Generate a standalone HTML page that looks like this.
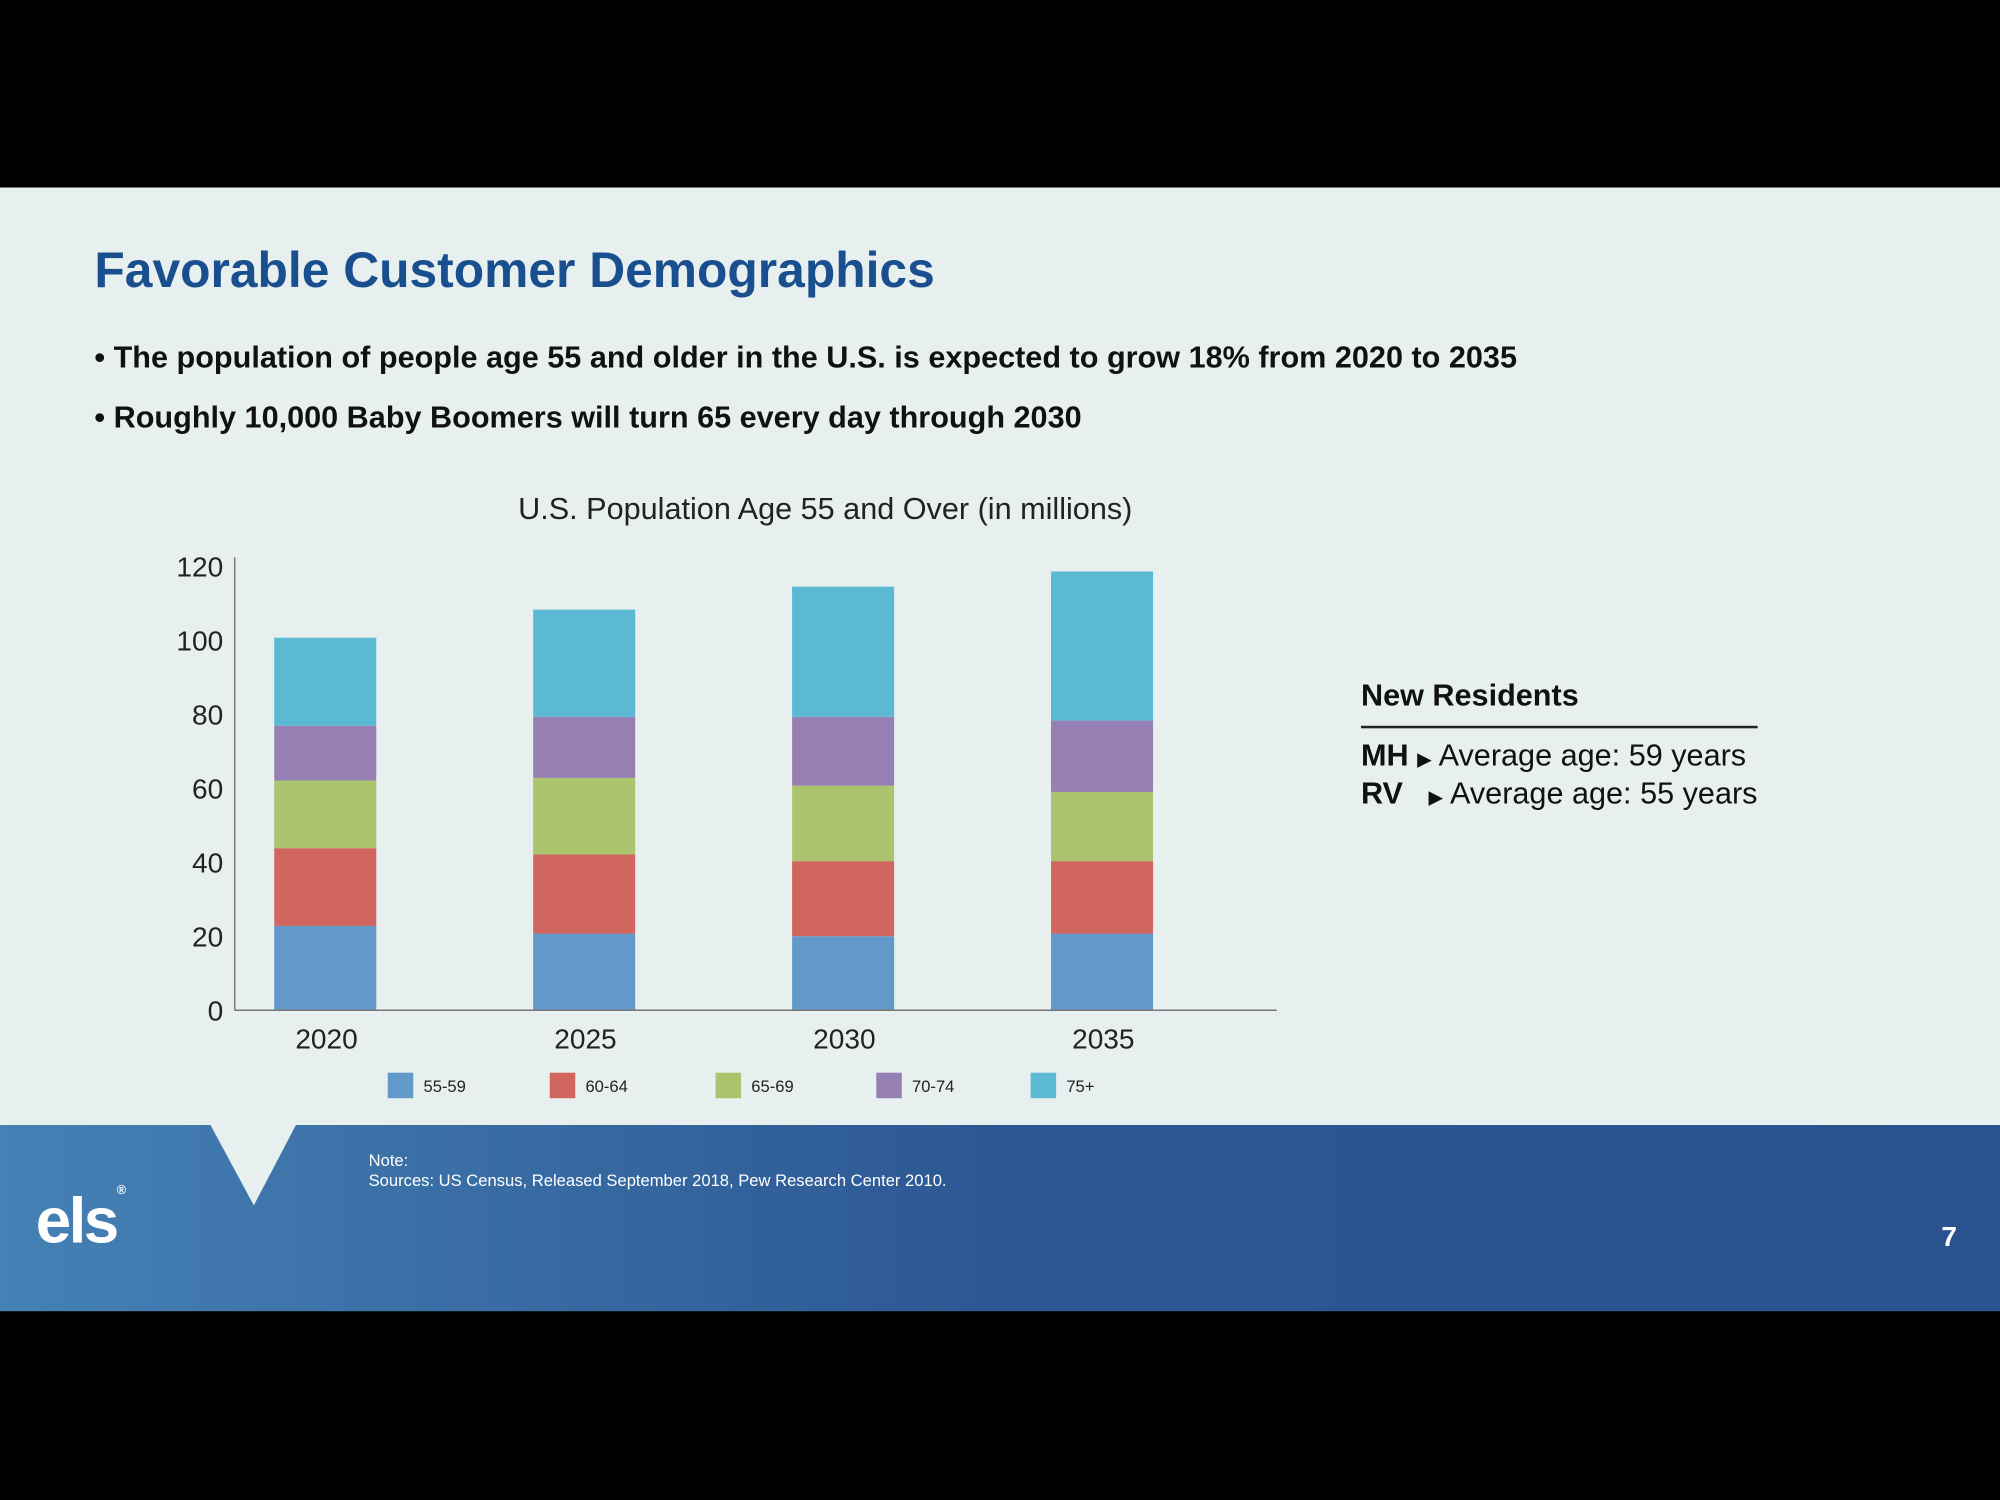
<!DOCTYPE html>
<html><head><meta charset="utf-8">
<style>
html,body{margin:0;padding:0;background:#000;width:2000px;height:1500px;overflow:hidden}
#s{position:absolute;left:0;top:0;width:1568px;height:1176px;transform:scale(1.27551);transform-origin:0 0;font-family:"Liberation Sans",sans-serif}
.t{position:absolute;white-space:nowrap}
</style></head><body>
<div id="s">
<div style="position:absolute;left:0;top:147px;width:1568px;height:735px;background:#e8f0ef"></div>
<div class="t" style="left:74px;top:191px;font-size:39px;font-weight:bold;color:#1a4f8f">Favorable Customer Demographics</div>
<div class="t" style="left:74px;top:267px;font-size:24px;font-weight:bold;color:#111">•&nbsp;The population of people age 55 and older in the U.S. is expected to grow 18% from 2020 to 2035</div>
<div class="t" style="left:74px;top:314px;font-size:24px;font-weight:bold;color:#111">•&nbsp;Roughly 10,000 Baby Boomers will turn 65 every day through 2030</div>
<svg id="chart" style="position:absolute;left:0;top:0" width="1568" height="900"></svg>
<div class="t" style="left:1067px;top:532px;font-size:24px;font-weight:bold;color:#111">New Residents</div>
<div style="position:absolute;left:1067px;top:569px;width:311px;height:2px;background:#222"></div>
<div class="t" style="left:1067px;top:579px;font-size:24px;color:#111"><b>MH</b> <span style="font-size:15px">▶</span> Average age: 59 years</div>
<div class="t" style="left:1067px;top:609px;font-size:24px;color:#111"><b>RV</b>&nbsp;&nbsp; <span style="font-size:15px">▶</span> Average age: 55 years</div>
<div style="position:absolute;left:0;top:882px;width:1568px;height:146px;background:linear-gradient(90deg,#4581b5,#2c5792 50%,#29528e)"></div>
<svg style="position:absolute;left:0;top:882px" width="300" height="70"><polygon points="165,0 232,0 199,63" fill="#e8f0ef"/></svg>
<div class="t" style="left:28px;top:928px;font-size:50px;font-weight:bold;color:#fff;letter-spacing:-2px">els<span style="font-size:10px;vertical-align:top">®</span></div>
<div class="t" style="left:289px;top:902px;font-size:13px;color:#fff;line-height:16px">Note:<br>Sources: US Census, Released September 2018, Pew Research Center 2010.</div>
<div class="t" style="left:1522px;top:957px;font-size:22px;font-weight:bold;color:#fff">7</div>
</div>
<script>
const years=["2020","2025","2030","2035"];
const groups=["55-59","60-64","65-69","70-74","75+"];
const colors=["#6399c9","#d0665e","#abc56f","#967fb3","#5cb9d3"];
const s55=[22.8,20.7,20.0,20.7];
const s60=[21.0,21.4,20.3,19.6];
const s65=[18.3,20.7,20.4,18.7];
const s70=[14.8,16.5,18.6,19.3];
const s75=[23.8,29.0,35.2,40.3];
const yTicks=[0,20,40,60,80,100,120];
const series=[s55,s60,s65,s70,s75];
const svg=document.getElementById('chart');
const NS='http://www.w3.org/2000/svg';
const y0=792,yTop=444,yMax=120,xL=184,xR=1001;
const yS=v=>y0-(v/yMax)*(y0-yTop);
const bw=80,step=203;
const xC=i=>255+i*step;
function el(t,a){const e=document.createElementNS(NS,t);for(const k in a)e.setAttribute(k,a[k]);svg.appendChild(e);return e;}
let t=el('text',{x:647,y:407,'text-anchor':'middle','font-size':24,fill:'#222','font-family':'Liberation Sans'});t.textContent='U.S. Population Age 55 and Over (in millions)';


yTicks.forEach(v=>{const e=el('text',{x:175,y:yS(v)+8,'text-anchor':'end','font-size':22,fill:'#222','font-family':'Liberation Sans'});e.textContent=v;

});
years.forEach((yr,i)=>{let acc=0;series.forEach((sr,k)=>{const a=yS(acc),b=yS(acc+sr[i]);acc+=sr[i];
const r=el('rect',{x:xC(i)-bw/2,y:b,width:bw,height:a-b,fill:colors[k]});

});
const e=el('text',{x:xC(i)+1,y:822,'text-anchor':'middle','font-size':22,fill:'#222','font-family':'Liberation Sans'});e.textContent=yr;

});
let ax=el('line',{x1:xL,y1:437,x2:xL,y2:y0,stroke:'#777','stroke-width':1.2});


ax=el('line',{x1:xL,y1:y0,x2:xR,y2:y0,stroke:'#777','stroke-width':1.2});


const lx=[304,431,561,687,808];
groups.forEach((g,k)=>{const r=el('rect',{x:lx[k],y:841,width:20,height:20,fill:colors[k]});


const e=el('text',{x:lx[k]+28,y:856,'font-size':13,fill:'#222','font-family':'Liberation Sans'});e.textContent=g;

});
</script>
</body></html>
